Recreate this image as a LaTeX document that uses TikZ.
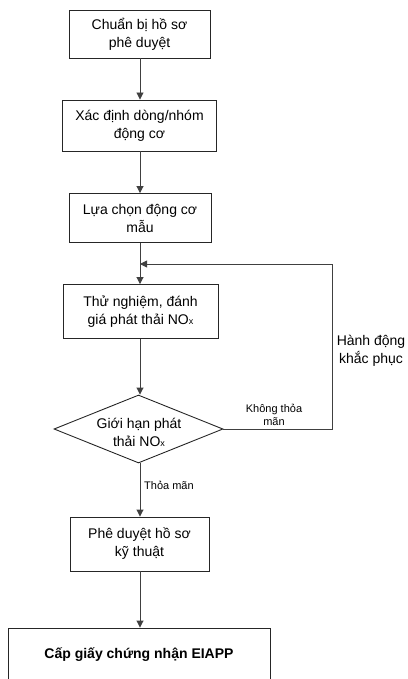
\documentclass[tikz,border=0pt]{standalone}
\usepackage{fontspec}
\setmainfont{Liberation Sans}
\usetikzlibrary{shapes.geometric,arrows.meta}
\newcommand{\NOx}{NO\raisebox{-0.3pt}{\fontsize{9}{9}\selectfont x}}
\begin{document}
\begin{tikzpicture}[x=1pt,y=-1pt,
  every node/.style={font=\fontsize{14}{18}\selectfont, text=black},
  stepbox/.style={draw=black!85, line width=0.9pt, rectangle, align=center, inner sep=0pt},
  decbox/.style={draw=black!85, line width=0.9pt, diamond, inner sep=0pt},
  lbl/.style={font=\fontsize{11}{13}\selectfont, align=center, inner sep=0pt},
  arr/.style={draw=black!75, line width=0.9pt, -{Triangle[length=7pt,width=7pt]}},
  ln/.style={draw=black!75, line width=0.9pt}]
  \useasboundingbox (0,0) rectangle (407,679);
  \clip (0,0) rectangle (407,679);

  % process steps
  \node[stepbox, minimum width=141, minimum height=48] (b1) at (139.5,34) {Chuẩn bị hồ sơ\\phê duyệt};
  \node[stepbox, minimum width=154, minimum height=51] (b2) at (139.5,125.5) {Xác định dòng/nhóm\\động cơ};
  \node[stepbox, minimum width=142, minimum height=49] (b3) at (140,218) {Lựa chọn động cơ\\mẫu};
  \node[stepbox, minimum width=155, minimum height=54] (b4) at (140.5,311.5) {Thử nghiệm, đánh\\giá phát thải \NOx};
  \node[decbox, minimum width=169, minimum height=68] (d) at (138.5,429) {};
  \node[align=center, inner sep=0pt] (dt) at (139,432) {Giới hạn phát\\thải \NOx};
  \node[stepbox, minimum width=139, minimum height=54] (b5) at (139.5,544) {Phê duyệt hồ sơ\\kỹ thuật};
  \node[stepbox, minimum width=262, minimum height=54, font=\fontsize{14}{18}\selectfont\bfseries] (b6) at (139,655) {Cấp giấy chứng nhận EIAPP};

  % loop-back points
  \coordinate (m) at (140,264);
  \coordinate (r) at (332,429);

  % main flow
  \draw[arr] (b1.south -| 140,0) -- (b2.north -| 140,0);
  \draw[arr] (b2.south -| 140,0) -- (b3.north -| 140,0);
  \draw[arr] (b3.south -| 140,0) -- (b4.north -| 140,0);
  \draw[arr] (b4.south -| 140,0) -- (d.north -| 140,0);
  \draw[arr] (d.south -| 140,0) -- (b5.north -| 140,0);
  \draw[arr] (b5.south -| 140,0) -- (b6.north -| 140,0);

  % corrective loop
  \draw[arr] (d.east) -- (r) -- (r |- m) -- (m);

  % labels
  \node[lbl] (no) at (274,415) {Không thỏa\\mãn};
  \node[lbl, anchor=west] (yes) at (144,485) {Thỏa mãn};
  \node[align=center, inner sep=0pt] (fix) at (371,351) {Hành động\\khắc phục};
\end{tikzpicture}
\end{document}
